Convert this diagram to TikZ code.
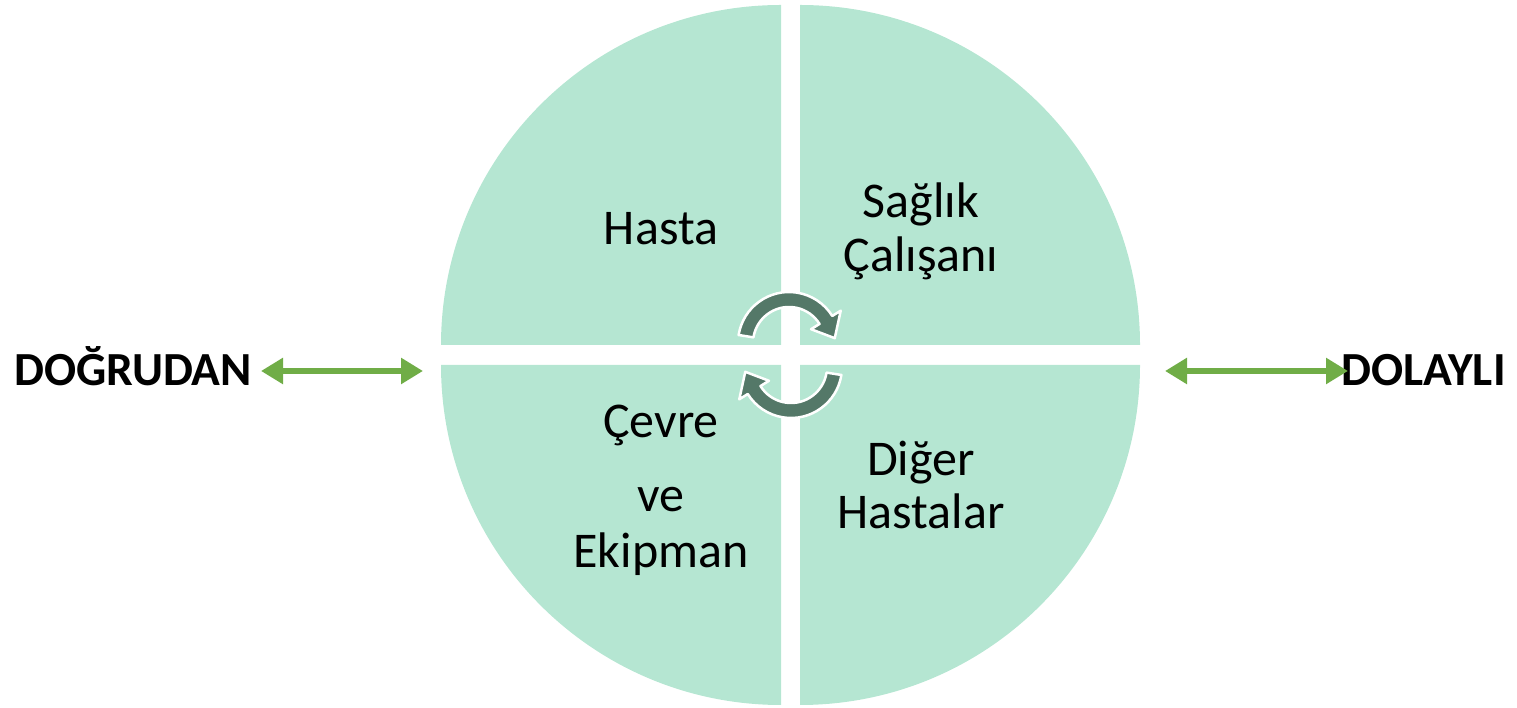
\documentclass[tikz,border=0pt]{standalone}
\usepackage{fontspec}
\setmainfont{Carlito}
\usetikzlibrary{arrows.meta}
\definecolor{quadfill}{RGB}{181,230,210}
\definecolor{cycdark}{RGB}{84,120,104}
\definecolor{arrgreen}{RGB}{112,173,71}
\tikzset{
  quad/.style={fill=quadfill, draw=none},
  cyc/.style={fill=cycdark, draw=white, line width=2.5pt, line join=round},
  lbl/.style={anchor=base, inner sep=0pt, font=\fontsize{50}{60}\selectfont},
  side/.style={anchor=base west, inner sep=0pt, font=\fontsize{47.5}{56}\selectfont\bfseries},
  garrow/.style={draw=arrgreen, line width=6pt, {Triangle[length=22pt,width=25pt]}-{Triangle[length=22pt,width=25pt]}}
}
\begin{document}
\begin{tikzpicture}[x=1pt,y=1pt]
\useasboundingbox (0,0) rectangle (1517,708);
% quadrants
\fill[quad] (781,363) -- (441,363) arc[start angle=180,end angle=90,radius=340pt] -- cycle;
\fill[quad] (800,363) -- (800,703) arc[start angle=90,end angle=0,radius=340pt] -- cycle;
\fill[quad] (781,343) -- (441,343) arc[start angle=180,end angle=270,radius=340pt] -- cycle;
\fill[quad] (800,343) -- (1140,343) arc[start angle=0,end angle=-90,radius=340pt] -- cycle;
% cycle arrows
\begin{scope}[shift={(789,365)}]
\draw[cyc] (171:51pt) arc[start angle=171,end angle=32,radius=51pt] -- (32:61pt) -- (6:46pt) -- (32:26pt) -- (32:36pt) arc[start angle=32,end angle=171,radius=36pt] -- cycle;
\end{scope}
\begin{scope}[shift={(791,341)}]
\draw[cyc] (-9:51pt) arc[start angle=-9,end angle=-148,radius=51pt] -- (-148:61pt) -- (-174:46pt) -- (-148:26pt) -- (-148:36pt) arc[start angle=-148,end angle=-9,radius=36pt] -- cycle;
\end{scope}
% quadrant texts
\node[lbl] (hasta) at (661,463) {Hasta};
\node[lbl] (saglik) at (921,490) {Sağlık};
\node[lbl] (calisani) at (921,436) {Çalışanı};
\node[lbl] (cevre) at (661,270) {Çevre};
\node[lbl] (ve) at (661,196) {ve};
\node[lbl] (ekipman) at (661,140) {Ekipman};
\node[lbl] (diger) at (921,232) {Diğer};
\node[lbl] (hastalar) at (921,179) {Hastalar};
% side labels
\node[side] (dogrudan) at (14,322) {DOĞRUDAN};
\node[side] (dolayli) at (1341,322) {DOLAYLI};
\coordinate (la) at (261,337);
\coordinate (lb) at (423,337);
\coordinate (ra) at (1165,337);
\coordinate (rb) at (1348,337);
\draw[garrow] (la) -- (lb);
\draw[garrow] (ra) -- (rb);
\end{tikzpicture}
\end{document}
